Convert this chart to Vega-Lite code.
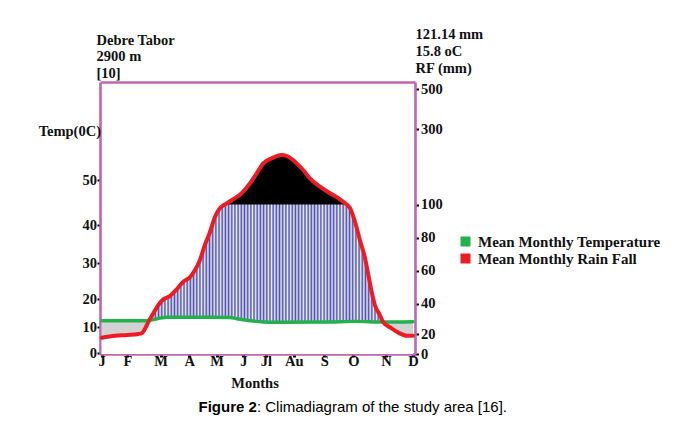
{
  "$schema": "https://vega.github.io/schema/vega-lite/v6.json",
  "width": 315,
  "height": 272,
  "autosize": "none",
  "padding": {"left": 100, "top": 82, "right": 268, "bottom": 71},
  "background": "white",
  "config": {
    "view": {"stroke": null},
    "axis": {
      "domainColor": "#c064b4", "domainWidth": 2.6, "tickColor": "#000", "tickWidth": 2,
      "labelFont": "Liberation Serif", "labelFontWeight": "bold", "labelFontSize": 14.5, "labelColor": "#111",
      "titleFont": "Liberation Serif", "titleFontWeight": "bold", "titleFontSize": 14.5, "titleColor": "#111",
      "grid": false, "zindex": 1, "titleAngle": 0, "labelFlush": false, "labelOverlap": false
    }
  },
  "datasets": {
    "rain": [
      {"month": 1.0, "rain": 16.3, "series": "Mean Monthly Rain Fall"},
      {"month": 1.52, "rain": 18.3, "series": "Mean Monthly Rain Fall"},
      {"month": 2.0, "rain": 19.0, "series": "Mean Monthly Rain Fall"},
      {"month": 2.33, "rain": 20.0, "series": "Mean Monthly Rain Fall"},
      {"month": 2.43, "rain": 20.5, "series": "Mean Monthly Rain Fall"},
      {"month": 2.65, "rain": 28.7, "series": "Mean Monthly Rain Fall"},
      {"month": 2.78, "rain": 33.6, "series": "Mean Monthly Rain Fall"},
      {"month": 2.93, "rain": 39.0, "series": "Mean Monthly Rain Fall"},
      {"month": 3.09, "rain": 42.5, "series": "Mean Monthly Rain Fall"},
      {"month": 3.32, "rain": 44.5, "series": "Mean Monthly Rain Fall"},
      {"month": 3.56, "rain": 48.6, "series": "Mean Monthly Rain Fall"},
      {"month": 3.79, "rain": 53.2, "series": "Mean Monthly Rain Fall"},
      {"month": 4.02, "rain": 55.9, "series": "Mean Monthly Rain Fall"},
      {"month": 4.21, "rain": 60.3, "series": "Mean Monthly Rain Fall"},
      {"month": 4.39, "rain": 66.4, "series": "Mean Monthly Rain Fall"},
      {"month": 4.57, "rain": 75.5, "series": "Mean Monthly Rain Fall"},
      {"month": 4.76, "rain": 83.5, "series": "Mean Monthly Rain Fall"},
      {"month": 4.94, "rain": 92.6, "series": "Mean Monthly Rain Fall"},
      {"month": 5.12, "rain": 97.7, "series": "Mean Monthly Rain Fall"},
      {"month": 5.31, "rain": 100, "series": "Mean Monthly Rain Fall"},
      {"month": 5.38, "rain": 103.2, "series": "Mean Monthly Rain Fall"},
      {"month": 5.62, "rain": 113.8, "series": "Mean Monthly Rain Fall"},
      {"month": 5.94, "rain": 129.7, "series": "Mean Monthly Rain Fall"},
      {"month": 6.3, "rain": 156.2, "series": "Mean Monthly Rain Fall"},
      {"month": 6.59, "rain": 182.6, "series": "Mean Monthly Rain Fall"},
      {"month": 6.88, "rain": 209.1, "series": "Mean Monthly Rain Fall"},
      {"month": 7.21, "rain": 222.4, "series": "Mean Monthly Rain Fall"},
      {"month": 7.57, "rain": 231.1, "series": "Mean Monthly Rain Fall"},
      {"month": 7.81, "rain": 226.6, "series": "Mean Monthly Rain Fall"},
      {"month": 8.04, "rain": 213.4, "series": "Mean Monthly Rain Fall"},
      {"month": 8.31, "rain": 191.4, "series": "Mean Monthly Rain Fall"},
      {"month": 8.53, "rain": 169.4, "series": "Mean Monthly Rain Fall"},
      {"month": 8.86, "rain": 147.2, "series": "Mean Monthly Rain Fall"},
      {"month": 9.2, "rain": 129.7, "series": "Mean Monthly Rain Fall"},
      {"month": 9.54, "rain": 113.8, "series": "Mean Monthly Rain Fall"},
      {"month": 9.77, "rain": 100, "series": "Mean Monthly Rain Fall"},
      {"month": 9.89, "rain": 97.7, "series": "Mean Monthly Rain Fall"},
      {"month": 10.05, "rain": 89.6, "series": "Mean Monthly Rain Fall"},
      {"month": 10.2, "rain": 78.5, "series": "Mean Monthly Rain Fall"},
      {"month": 10.36, "rain": 67.4, "series": "Mean Monthly Rain Fall"},
      {"month": 10.46, "rain": 57.3, "series": "Mean Monthly Rain Fall"},
      {"month": 10.56, "rain": 47.2, "series": "Mean Monthly Rain Fall"},
      {"month": 10.66, "rain": 39.0, "series": "Mean Monthly Rain Fall"},
      {"month": 10.81, "rain": 32.5, "series": "Mean Monthly Rain Fall"},
      {"month": 10.91, "rain": 27.9, "series": "Mean Monthly Rain Fall"},
      {"month": 11.21, "rain": 23.7, "series": "Mean Monthly Rain Fall"},
      {"month": 11.46, "rain": 20.9, "series": "Mean Monthly Rain Fall"},
      {"month": 11.77, "rain": 18.3, "series": "Mean Monthly Rain Fall"},
      {"month": 12.0, "rain": 18.3, "series": "Mean Monthly Rain Fall"}
    ],
    "temp": [
      {"month": 1.0, "temp": 12.25, "series": "Mean Monthly Temperature"},
      {"month": 2.53, "temp": 12.25, "series": "Mean Monthly Temperature"},
      {"month": 2.65, "temp": 12.35, "series": "Mean Monthly Temperature"},
      {"month": 3.21, "temp": 13.46, "series": "Mean Monthly Temperature"},
      {"month": 4.76, "temp": 13.46, "series": "Mean Monthly Temperature"},
      {"month": 5.5, "temp": 13.4, "series": "Mean Monthly Temperature"},
      {"month": 5.75, "temp": 12.96, "series": "Mean Monthly Temperature"},
      {"month": 6.3, "temp": 12.25, "series": "Mean Monthly Temperature"},
      {"month": 6.88, "temp": 11.79, "series": "Mean Monthly Temperature"},
      {"month": 7.38, "temp": 11.68, "series": "Mean Monthly Temperature"},
      {"month": 9.2, "temp": 11.79, "series": "Mean Monthly Temperature"},
      {"month": 10.05, "temp": 12.0, "series": "Mean Monthly Temperature"},
      {"month": 10.91, "temp": 11.79, "series": "Mean Monthly Temperature"},
      {"month": 12.0, "temp": 11.9, "series": "Mean Monthly Temperature"}
    ]
  },
  "resolve": {"scale": {"x": "independent", "y": "independent"}, "axis": {"x": "independent", "y": "independent"}},
  "layer": [
    {
      "data": {"name": "temp"},
      "mark": {"type": "area", "interpolate": "monotone", "fill": "#d2d2d2"},
      "encoding": {
        "x": {"field": "month", "type": "quantitative",
          "scale": {"domain": [0.934, 1, 2, 3, 4, 5, 6, 7, 8, 9, 10, 11, 12, 12.074], "range": [0, 1.7, 27.3, 60.7, 89.3, 116.7, 143.3, 166, 193.7, 224.3, 253.3, 286, 313, 315], "zero": false, "nice": false},
          "axis": {"orient": "bottom", "values": [1, 2, 3, 4, 5, 6, 7, 8, 9, 10, 11, 12],
            "labelExpr": "['J','F','M','A','M','J','Jl','Au','S','O','N','D'][datum.value-1]",
            "tickSize": 3, "tickWidth": 3, "labelPadding": -2.2, "labelAngle": 0,
            "title": "Months", "titleX": 154.5, "titleY": 33, "titleAlign": "center", "titleBaseline": "alphabetic"}},
        "y": {"field": "temp", "type": "quantitative",
          "scale": {"domain": [-0.38, 0, 10, 20, 30, 40, 50, 71.8], "range": [272, 271, 245, 217, 181, 143, 98, 0], "zero": false, "nice": false},
          "axis": {"orient": "left", "values": [0, 10, 20, 30, 40, 50], "tickSize": 3, "labelPadding": 0.5,
            "title": "Temp(0C)", "titleX": 0.5, "titleY": 53.3, "titleAlign": "right", "titleBaseline": "alphabetic"}},
        "y2": {"datum": -0.38}
      }
    },
    {
      "data": {"name": "rain"},
      "mark": {"type": "area", "interpolate": "monotone", "fill": "white"},
      "encoding": {
        "x": {"field": "month", "type": "quantitative",
          "scale": {"domain": [0.934, 1, 2, 3, 4, 5, 6, 7, 8, 9, 10, 11, 12, 12.074], "range": [0, 1.7, 27.3, 60.7, 89.3, 116.7, 143.3, 166, 193.7, 224.3, 253.3, 286, 313, 315], "zero": false, "nice": false},
          "axis": {"orient": "top", "labels": false, "ticks": false,
            "title": ["Debre Tabor", "2900 m", "[10]"], "titleX": -4, "titleY": -38, "titleAlign": "left", "titleBaseline": "alphabetic", "titleLineHeight": 16.5}},
        "y": {"field": "rain", "type": "quantitative",
          "scale": {"domain": [0, 20, 40, 60, 80, 100, 300, 500, 535], "range": [272, 252, 221.5, 188.5, 155.5, 122.5, 47, 7, 0], "zero": false, "nice": false},
          "axis": {"orient": "right", "values": [0, 20, 40, 60, 80, 100, 300, 500], "tickSize": 3.5, "labelPadding": 2,
            "title": ["121.14 mm", "15.8 oC", "RF (mm)"], "titleX": 0, "titleY": -43.7, "titleAlign": "left", "titleBaseline": "alphabetic", "titleLineHeight": 17}},
        "y2": {"datum": 0}
      }
    },
    {
      "data": {"name": "rain"},
      "transform": [{"filter": {"field": "month", "range": [2.65, 10.91]}}],
      "mark": {"type": "area", "interpolate": "monotone",
        "fill": {"gradient": "linear", "x1": 0, "x2": 1, "y1": 0, "y2": 0, "stops": [
          {"offset": 0, "color": "#4b50a6"}, {"offset": 0.0068, "color": "#eceef8"}, {"offset": 0.0136, "color": "#4b50a6"}, {"offset": 0.0204, "color": "#eceef8"},
          {"offset": 0.0272, "color": "#4b50a6"}, {"offset": 0.034, "color": "#eceef8"}, {"offset": 0.0408, "color": "#4b50a6"}, {"offset": 0.0476, "color": "#eceef8"},
          {"offset": 0.0544, "color": "#4b50a6"}, {"offset": 0.0612, "color": "#eceef8"}, {"offset": 0.068, "color": "#4b50a6"}, {"offset": 0.0748, "color": "#eceef8"},
          {"offset": 0.0816, "color": "#4b50a6"}, {"offset": 0.0884, "color": "#eceef8"}, {"offset": 0.0952, "color": "#4b50a6"}, {"offset": 0.102, "color": "#eceef8"},
          {"offset": 0.1088, "color": "#4b50a6"}, {"offset": 0.1156, "color": "#eceef8"}, {"offset": 0.1224, "color": "#4b50a6"}, {"offset": 0.1292, "color": "#eceef8"},
          {"offset": 0.136, "color": "#4b50a6"}, {"offset": 0.1428, "color": "#eceef8"}, {"offset": 0.1496, "color": "#4b50a6"}, {"offset": 0.1564, "color": "#eceef8"},
          {"offset": 0.1632, "color": "#4b50a6"}, {"offset": 0.17, "color": "#eceef8"}, {"offset": 0.1768, "color": "#4b50a6"}, {"offset": 0.1836, "color": "#eceef8"},
          {"offset": 0.1904, "color": "#4b50a6"}, {"offset": 0.1972, "color": "#eceef8"}, {"offset": 0.204, "color": "#4b50a6"}, {"offset": 0.2108, "color": "#eceef8"},
          {"offset": 0.2176, "color": "#4b50a6"}, {"offset": 0.2244, "color": "#eceef8"}, {"offset": 0.2312, "color": "#4b50a6"}, {"offset": 0.238, "color": "#eceef8"},
          {"offset": 0.2448, "color": "#4b50a6"}, {"offset": 0.2516, "color": "#eceef8"}, {"offset": 0.2584, "color": "#4b50a6"}, {"offset": 0.2652, "color": "#eceef8"},
          {"offset": 0.272, "color": "#4b50a6"}, {"offset": 0.2788, "color": "#eceef8"}, {"offset": 0.2856, "color": "#4b50a6"}, {"offset": 0.2924, "color": "#eceef8"},
          {"offset": 0.2992, "color": "#4b50a6"}, {"offset": 0.306, "color": "#eceef8"}, {"offset": 0.3128, "color": "#4b50a6"}, {"offset": 0.3196, "color": "#eceef8"},
          {"offset": 0.3264, "color": "#4b50a6"}, {"offset": 0.3332, "color": "#eceef8"}, {"offset": 0.34, "color": "#4b50a6"}, {"offset": 0.3468, "color": "#eceef8"},
          {"offset": 0.3536, "color": "#4b50a6"}, {"offset": 0.3604, "color": "#eceef8"}, {"offset": 0.3672, "color": "#4b50a6"}, {"offset": 0.374, "color": "#eceef8"},
          {"offset": 0.3808, "color": "#4b50a6"}, {"offset": 0.3876, "color": "#eceef8"}, {"offset": 0.3944, "color": "#4b50a6"}, {"offset": 0.4012, "color": "#eceef8"},
          {"offset": 0.408, "color": "#4b50a6"}, {"offset": 0.4148, "color": "#eceef8"}, {"offset": 0.4216, "color": "#4b50a6"}, {"offset": 0.4284, "color": "#eceef8"},
          {"offset": 0.4352, "color": "#4b50a6"}, {"offset": 0.442, "color": "#eceef8"}, {"offset": 0.4488, "color": "#4b50a6"}, {"offset": 0.4556, "color": "#eceef8"},
          {"offset": 0.4624, "color": "#4b50a6"}, {"offset": 0.4692, "color": "#eceef8"}, {"offset": 0.476, "color": "#4b50a6"}, {"offset": 0.4828, "color": "#eceef8"},
          {"offset": 0.4896, "color": "#4b50a6"}, {"offset": 0.4964, "color": "#eceef8"}, {"offset": 0.5032, "color": "#4b50a6"}, {"offset": 0.51, "color": "#eceef8"},
          {"offset": 0.5168, "color": "#4b50a6"}, {"offset": 0.5236, "color": "#eceef8"}, {"offset": 0.5304, "color": "#4b50a6"}, {"offset": 0.5372, "color": "#eceef8"},
          {"offset": 0.544, "color": "#4b50a6"}, {"offset": 0.5508, "color": "#eceef8"}, {"offset": 0.5576, "color": "#4b50a6"}, {"offset": 0.5644, "color": "#eceef8"},
          {"offset": 0.5712, "color": "#4b50a6"}, {"offset": 0.578, "color": "#eceef8"}, {"offset": 0.5848, "color": "#4b50a6"}, {"offset": 0.5916, "color": "#eceef8"},
          {"offset": 0.5984, "color": "#4b50a6"}, {"offset": 0.6052, "color": "#eceef8"}, {"offset": 0.612, "color": "#4b50a6"}, {"offset": 0.6188, "color": "#eceef8"},
          {"offset": 0.6256, "color": "#4b50a6"}, {"offset": 0.6324, "color": "#eceef8"}, {"offset": 0.6392, "color": "#4b50a6"}, {"offset": 0.646, "color": "#eceef8"},
          {"offset": 0.6528, "color": "#4b50a6"}, {"offset": 0.6596, "color": "#eceef8"}, {"offset": 0.6664, "color": "#4b50a6"}, {"offset": 0.6732, "color": "#eceef8"},
          {"offset": 0.68, "color": "#4b50a6"}, {"offset": 0.6868, "color": "#eceef8"}, {"offset": 0.6936, "color": "#4b50a6"}, {"offset": 0.7004, "color": "#eceef8"},
          {"offset": 0.7072, "color": "#4b50a6"}, {"offset": 0.714, "color": "#eceef8"}, {"offset": 0.7208, "color": "#4b50a6"}, {"offset": 0.7276, "color": "#eceef8"},
          {"offset": 0.7344, "color": "#4b50a6"}, {"offset": 0.7412, "color": "#eceef8"}, {"offset": 0.748, "color": "#4b50a6"}, {"offset": 0.7548, "color": "#eceef8"},
          {"offset": 0.7616, "color": "#4b50a6"}, {"offset": 0.7684, "color": "#eceef8"}, {"offset": 0.7752, "color": "#4b50a6"}, {"offset": 0.782, "color": "#eceef8"},
          {"offset": 0.7888, "color": "#4b50a6"}, {"offset": 0.7956, "color": "#eceef8"}, {"offset": 0.8024, "color": "#4b50a6"}, {"offset": 0.8092, "color": "#eceef8"},
          {"offset": 0.816, "color": "#4b50a6"}, {"offset": 0.8228, "color": "#eceef8"}, {"offset": 0.8296, "color": "#4b50a6"}, {"offset": 0.8364, "color": "#eceef8"},
          {"offset": 0.8432, "color": "#4b50a6"}, {"offset": 0.85, "color": "#eceef8"}, {"offset": 0.8568, "color": "#4b50a6"}, {"offset": 0.8636, "color": "#eceef8"},
          {"offset": 0.8704, "color": "#4b50a6"}, {"offset": 0.8772, "color": "#eceef8"}, {"offset": 0.884, "color": "#4b50a6"}, {"offset": 0.8908, "color": "#eceef8"},
          {"offset": 0.8976, "color": "#4b50a6"}, {"offset": 0.9044, "color": "#eceef8"}, {"offset": 0.9112, "color": "#4b50a6"}, {"offset": 0.918, "color": "#eceef8"},
          {"offset": 0.9248, "color": "#4b50a6"}, {"offset": 0.9316, "color": "#eceef8"}, {"offset": 0.9384, "color": "#4b50a6"}, {"offset": 0.9452, "color": "#eceef8"},
          {"offset": 0.952, "color": "#4b50a6"}, {"offset": 0.9588, "color": "#eceef8"}, {"offset": 0.9656, "color": "#4b50a6"}, {"offset": 0.9724, "color": "#eceef8"},
          {"offset": 0.9792, "color": "#4b50a6"}, {"offset": 0.986, "color": "#eceef8"}, {"offset": 0.9928, "color": "#4b50a6"}, {"offset": 1, "color": "#eceef8"}
        ]}},
      "encoding": {
        "x": {"field": "month", "type": "quantitative",
          "scale": {"domain": [0.934, 1, 2, 3, 4, 5, 6, 7, 8, 9, 10, 11, 12, 12.074], "range": [0, 1.7, 27.3, 60.7, 89.3, 116.7, 143.3, 166, 193.7, 224.3, 253.3, 286, 313, 315], "zero": false, "nice": false},
          "axis": null},
        "y": {"field": "rain", "type": "quantitative",
          "scale": {"domain": [0, 20, 40, 60, 80, 100, 300, 500, 535], "range": [272, 252, 221.5, 188.5, 155.5, 122.5, 47, 7, 0], "zero": false, "nice": false},
          "axis": null},
        "y2": {"datum": 0}
      }
    },
    {
      "data": {"name": "temp"},
      "transform": [{"filter": {"field": "month", "range": [2.65, 10.91]}}],
      "mark": {"type": "area", "interpolate": "monotone", "fill": "white"},
      "encoding": {
        "x": {"field": "month", "type": "quantitative",
          "scale": {"domain": [0.934, 1, 2, 3, 4, 5, 6, 7, 8, 9, 10, 11, 12, 12.074], "range": [0, 1.7, 27.3, 60.7, 89.3, 116.7, 143.3, 166, 193.7, 224.3, 253.3, 286, 313, 315], "zero": false, "nice": false},
          "axis": {"orient": "bottom", "domain": false, "ticks": false, "labels": false,
            "title": "Figure 2", "titleFont": "Liberation Sans", "titleFontWeight": "bold", "titleFontSize": 15, "titleColor": "#000",
            "titleX": 98, "titleY": 57, "titleAlign": "left", "titleBaseline": "alphabetic"}},
        "y": {"field": "temp", "type": "quantitative",
          "scale": {"domain": [-0.38, 0, 10, 20, 30, 40, 50, 71.8], "range": [272, 271, 245, 217, 181, 143, 98, 0], "zero": false, "nice": false},
          "axis": {"orient": "left", "domain": false, "ticks": false, "labels": false,
            "title": ": Climadiagram of the study area [16].", "titleFont": "Liberation Sans", "titleFontWeight": "normal", "titleFontSize": 15, "titleColor": "#000",
            "titleX": 156.4, "titleY": 329, "titleAlign": "left", "titleBaseline": "alphabetic"}},
        "y2": {"datum": -0.38}
      }
    },
    {
      "data": {"name": "rain"},
      "transform": [{"filter": {"field": "rain", "gte": 100}}],
      "mark": {"type": "area", "interpolate": "monotone", "fill": "black"},
      "encoding": {
        "x": {"field": "month", "type": "quantitative",
          "scale": {"domain": [0.934, 1, 2, 3, 4, 5, 6, 7, 8, 9, 10, 11, 12, 12.074], "range": [0, 1.7, 27.3, 60.7, 89.3, 116.7, 143.3, 166, 193.7, 224.3, 253.3, 286, 313, 315], "zero": false, "nice": false},
          "axis": null},
        "y": {"field": "rain", "type": "quantitative",
          "scale": {"domain": [0, 20, 40, 60, 80, 100, 300, 500, 535], "range": [272, 252, 221.5, 188.5, 155.5, 122.5, 47, 7, 0], "zero": false, "nice": false},
          "axis": null},
        "y2": {"datum": 100}
      }
    },
    {
      "data": {"name": "temp"},
      "mark": {"type": "line", "interpolate": "monotone", "strokeWidth": 3.4, "strokeCap": "round"},
      "encoding": {
        "x": {"field": "month", "type": "quantitative",
          "scale": {"domain": [0.934, 1, 2, 3, 4, 5, 6, 7, 8, 9, 10, 11, 12, 12.074], "range": [0, 1.7, 27.3, 60.7, 89.3, 116.7, 143.3, 166, 193.7, 224.3, 253.3, 286, 313, 315], "zero": false, "nice": false},
          "axis": null},
        "y": {"field": "temp", "type": "quantitative",
          "scale": {"domain": [-0.38, 0, 10, 20, 30, 40, 50, 71.8], "range": [272, 271, 245, 217, 181, 143, 98, 0], "zero": false, "nice": false},
          "axis": null},
        "color": {"field": "series", "type": "nominal",
          "scale": {"domain": ["Mean Monthly Temperature", "Mean Monthly Rain Fall"], "range": ["#22b14c", "#ed1c24"]},
          "legend": {"orient": "none", "legendX": 358, "legendY": 152, "title": null, "padding": 0,
            "symbolType": "square", "symbolSize": 100, "labelOffset": 5, "rowPadding": 1,
            "labelFont": "Liberation Serif", "labelFontWeight": "bold", "labelFontSize": 15, "labelColor": "#111", "labelLimit": 300,
            "encode": {"symbols": {"update": {"fill": {"scale": "color", "field": "value"}, "strokeWidth": {"value": 0}, "opacity": {"value": 1}}}}}}
      }
    },
    {
      "data": {"name": "rain"},
      "mark": {"type": "line", "interpolate": "monotone", "strokeWidth": 4, "strokeCap": "round", "strokeJoin": "round"},
      "encoding": {
        "x": {"field": "month", "type": "quantitative",
          "scale": {"domain": [0.934, 1, 2, 3, 4, 5, 6, 7, 8, 9, 10, 11, 12, 12.074], "range": [0, 1.7, 27.3, 60.7, 89.3, 116.7, 143.3, 166, 193.7, 224.3, 253.3, 286, 313, 315], "zero": false, "nice": false},
          "axis": null},
        "y": {"field": "rain", "type": "quantitative",
          "scale": {"domain": [0, 20, 40, 60, 80, 100, 300, 500, 535], "range": [272, 252, 221.5, 188.5, 155.5, 122.5, 47, 7, 0], "zero": false, "nice": false},
          "axis": null},
        "color": {"field": "series", "type": "nominal"}
      }
    }
  ]
}
